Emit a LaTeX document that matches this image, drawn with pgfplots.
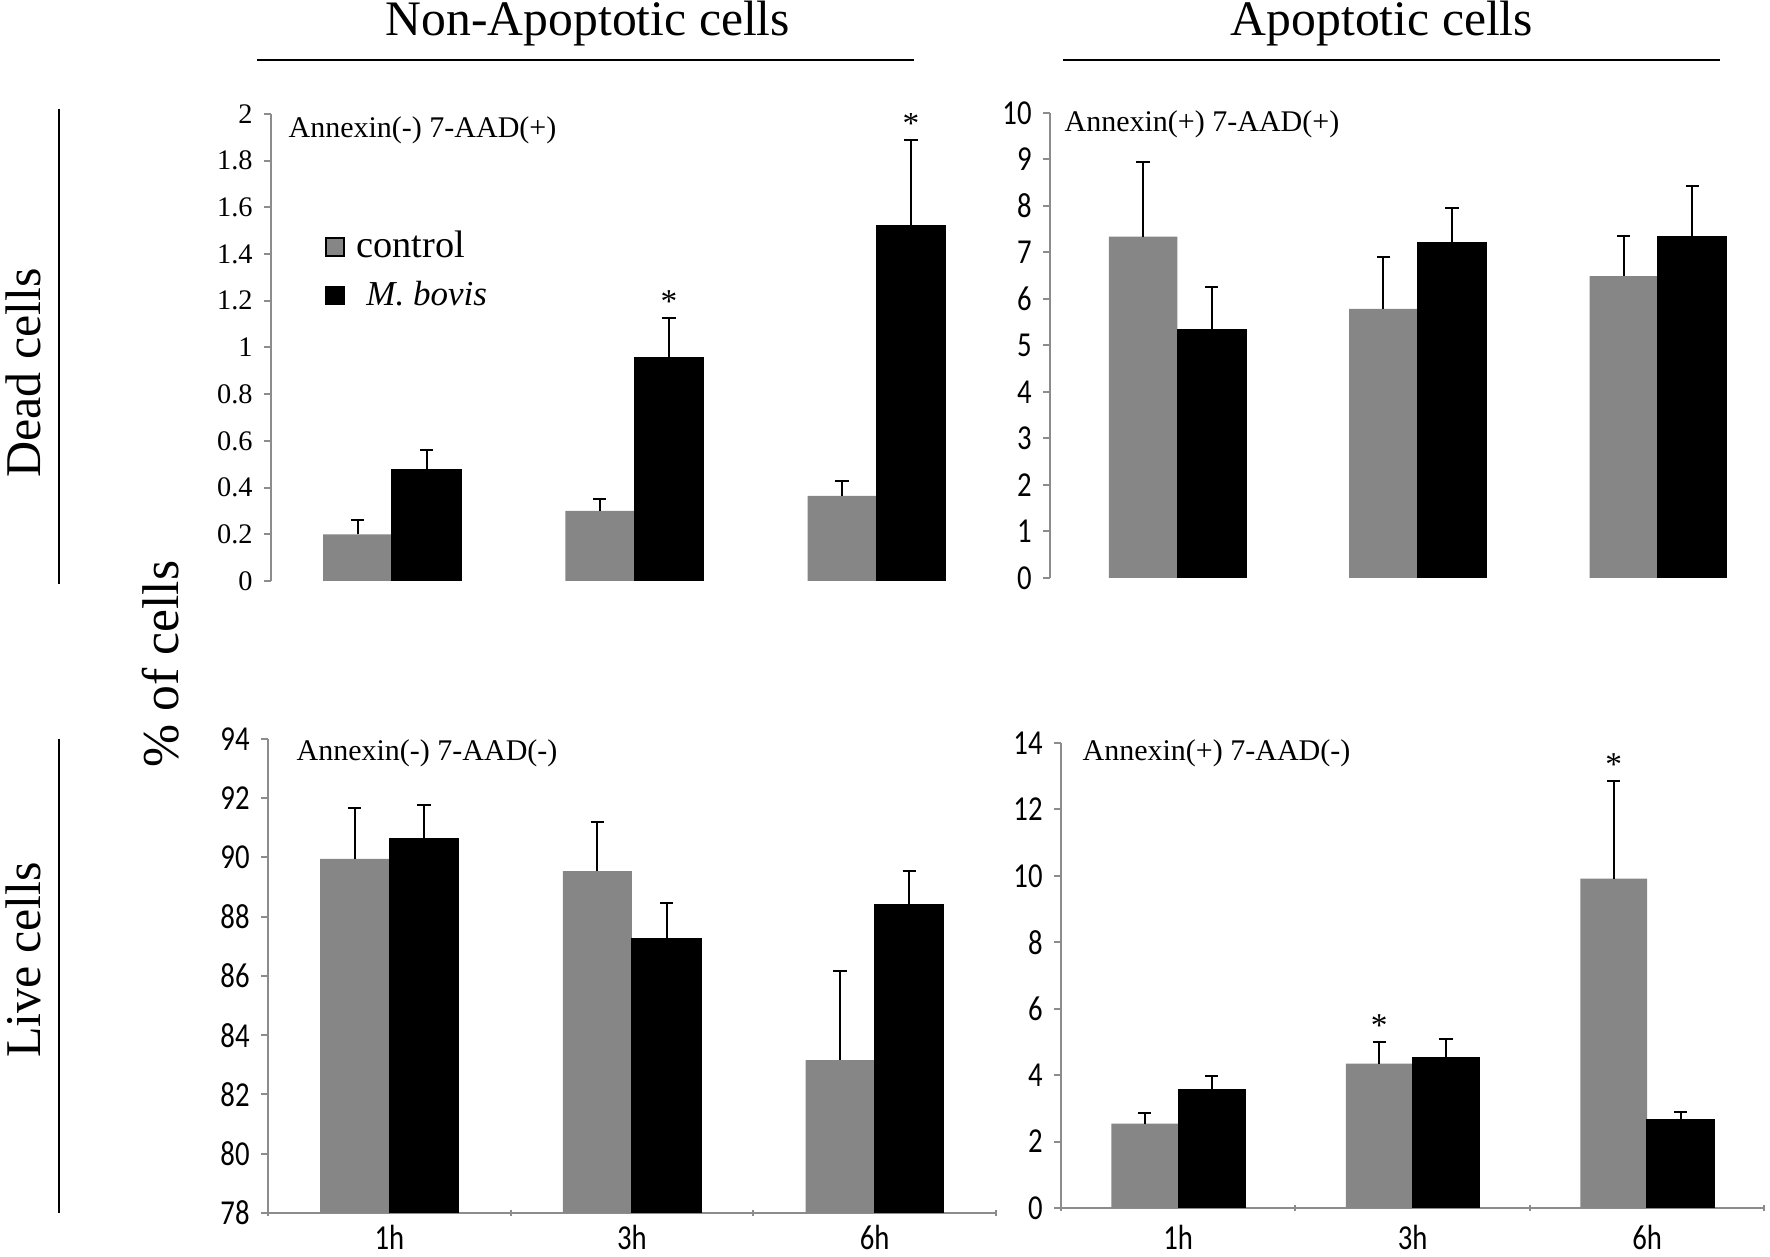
\documentclass[border=0pt]{standalone}
\usepackage{fontspec}
\setmainfont{Liberation Serif}
\newfontfamily\cond[FakeStretch=0.82]{Carlito}
\usepackage{pgfplots}
\pgfplotsset{compat=1.18}
\definecolor{ctrl}{RGB}{134,134,134}
\definecolor{axgray}{RGB}{140,140,140}
\pgfplotsset{
  panel/.style={
    scale only axis, enlargelimits=false, xmin=0, xmax=3,
    axis y line=left,
    axis line style={-, draw=axgray, line width=0.6pt},
    every outer x axis line/.append style={-},
    every outer y axis line/.append style={-},
    tick align=outside, major tick length=2pt,
    tick style={draw=axgray, line width=0.6pt},
    /pgf/number format/assume math mode=true,
    ybar, bar width=0.285,
    yticklabel style={font=\cond\fontsize{10.5}{12}\selectfont, black},
    xticklabel style={font=\cond\fontsize{10.5}{12}\selectfont, black, yshift=-0.6pt},
  },
  toppanel/.style={panel, axis x line=none, xtick=\empty},
  botpanel/.style={panel, axis x line=bottom, xtick={0,1,2,3},
    xticklabels={1h,3h,6h}, x tick label as interval=true,
    axis line style={-}},
  ctrlbar/.style={fill=ctrl, draw=none, bar shift=-0.1425,
    error bars/.cd, y dir=plus, y explicit,
    error bar style={black, line width=0.6pt},
    error mark options={rotate=90, mark size=2pt, black, line width=0.6pt}},
  bovbar/.style={fill=black, draw=black, bar shift=0.1425,
    error bars/.cd, y dir=plus, y explicit,
    error bar style={black, line width=0.6pt},
    error mark options={rotate=90, mark size=2pt, black, line width=0.6pt}},
}
\begin{document}
\begin{tikzpicture}
\useasboundingbox (0,0) rectangle (531pt,377.1pt);

% Top-left: Annexin(-) 7-AAD(+)
\begin{axis}[toppanel, at={(81.3pt,202.8pt)}, anchor=south west,
  width=218pt, height=140.1pt, ymin=0, ymax=2,
  ytick={0,0.2,0.4,0.6,0.8,1,1.2,1.4,1.6,1.8,2},
  yticklabel style={font=\rmfamily\fontsize{8.5}{10}\selectfont},
  legend image code/.code={\draw[#1] (0pt,-2.7pt) rectangle (5.4pt,2.7pt);},
  legend style={draw=none, fill=none, at={(rel axis cs:0.074,0.765)}, anchor=north west,
    row sep=1.5pt, inner sep=0pt, cells={anchor=west}}]
\addplot[ctrlbar] coordinates {(0.5,0.20) +- (0,0.06) (1.5,0.30) +- (0,0.05) (2.5,0.365) +- (0,0.062)};
\addlegendentry{\fontsize{11.5}{13}\selectfont\hspace{1.5pt}control}
\addplot[bovbar] coordinates {(0.5,0.475) +- (0,0.088) (1.5,0.955) +- (0,0.17) (2.5,1.52) +- (0,0.367)};
\addlegendentry{\fontsize{10.5}{12}\selectfont\hspace{4.5pt}\textit{M. bovis}}
\node[anchor=south, inner sep=1.5pt, font=\fontsize{10}{12}\selectfont] at (axis cs:1.6425,1.125) {*};
\node[anchor=south, inner sep=1.5pt, font=\fontsize{10}{12}\selectfont] at (axis cs:2.6425,1.887) {*};
\end{axis}

% Top-right: Annexin(+) 7-AAD(+)
\begin{axis}[toppanel, at={(315pt,203.7pt)}, anchor=south west,
  width=216.3pt, height=139.5pt, ymin=0, ymax=10, xmin=-0.03, xmax=2.97,
  ytick={0,1,2,3,4,5,6,7,8,9,10}]
\addplot[ctrlbar] coordinates {(0.5,7.34) +- (0,1.60) (1.5,5.79) +- (0,1.12) (2.5,6.49) +- (0,0.87)};
\addplot[bovbar] coordinates {(0.5,5.35) +- (0,0.90) (1.5,7.21) +- (0,0.75) (2.5,7.34) +- (0,1.08)};
\end{axis}

% Bottom-left: Annexin(-) 7-AAD(-)
\begin{axis}[botpanel, at={(80.4pt,13.2pt)}, anchor=south west,
  width=218.4pt, height=142.2pt, ymin=78, ymax=94,
  ytick={78,80,82,84,86,88,90,92,94},
  xticklabel style={yshift=1.4pt}]
\addplot[ctrlbar] coordinates {(0.5,89.95) +- (0,1.71) (1.5,89.54) +- (0,1.66) (2.5,83.16) +- (0,3.02)};
\addplot[bovbar] coordinates {(0.5,90.64) +- (0,1.12) (1.5,87.27) +- (0,1.20) (2.5,88.40) +- (0,1.15)};
\end{axis}

% Bottom-right: Annexin(+) 7-AAD(-)
\begin{axis}[botpanel, at={(318.3pt,14.7pt)}, anchor=south west,
  width=211pt, height=139.5pt, ymin=0, ymax=14,
  ytick={0,2,4,6,8,10,12,14}]
\addplot[ctrlbar] coordinates {(0.5,2.54) +- (0,0.31) (1.5,4.35) +- (0,0.65) (2.5,9.92) +- (0,2.93)};
\addplot[bovbar] coordinates {(0.5,3.55) +- (0,0.41) (1.5,4.53) +- (0,0.56) (2.5,2.66) +- (0,0.24)};
\node[anchor=south, inner sep=1.5pt, font=\fontsize{10}{12}\selectfont] at (axis cs:1.3575,5.0) {*};
\node[anchor=south, inner sep=1.5pt, font=\fontsize{10}{12}\selectfont] at (axis cs:2.3575,12.85) {*};
\end{axis}

% Panel annotations
\node[anchor=west, inner sep=0pt, font=\fontsize{9}{11}\selectfont] at (86.4pt,338.1pt) {Annexin(-) 7-AAD(+)};
\node[anchor=west, inner sep=0pt, font=\fontsize{9}{11}\selectfont] at (319.2pt,339.9pt) {Annexin(+) 7-AAD(+)};
\node[anchor=west, inner sep=0pt, font=\fontsize{9}{11}\selectfont] at (88.8pt,151.2pt) {Annexin(-) 7-AAD(-)};
\node[anchor=west, inner sep=0pt, font=\fontsize{9}{11}\selectfont] at (324.6pt,151.2pt) {Annexin(+) 7-AAD(-)};

% Column titles and rules
\node[anchor=base, inner sep=0pt, font=\fontsize{14.9}{17}\selectfont] at (176.4pt,366.5pt) {Non-Apoptotic cells};
\node[anchor=base, inner sep=0pt, font=\fontsize{14.9}{17}\selectfont] at (414.6pt,366.5pt) {Apoptotic cells};
\draw[line width=0.7pt] (77.1pt,359.1pt) -- (274.2pt,359.1pt);
\draw[line width=0.7pt] (318.9pt,359.1pt) -- (516pt,359.1pt);

% Row labels
\draw[line width=0.7pt] (17.7pt,344.4pt) -- (17.7pt,201.9pt);
\draw[line width=0.7pt] (17.7pt,155.4pt) -- (17.7pt,13.2pt);
\node[rotate=90, inner sep=0pt, font=\fontsize{15}{18}\selectfont] at (6.9pt,265.2pt) {Dead cells};
\node[rotate=90, inner sep=0pt, font=\fontsize{15}{18}\selectfont] at (6.9pt,89.1pt) {Live cells};
\node[rotate=90, inner sep=0pt, font=\fontsize{15.5}{18}\selectfont] at (48.3pt,177.9pt) {\% of cells};
\end{tikzpicture}
\end{document}
